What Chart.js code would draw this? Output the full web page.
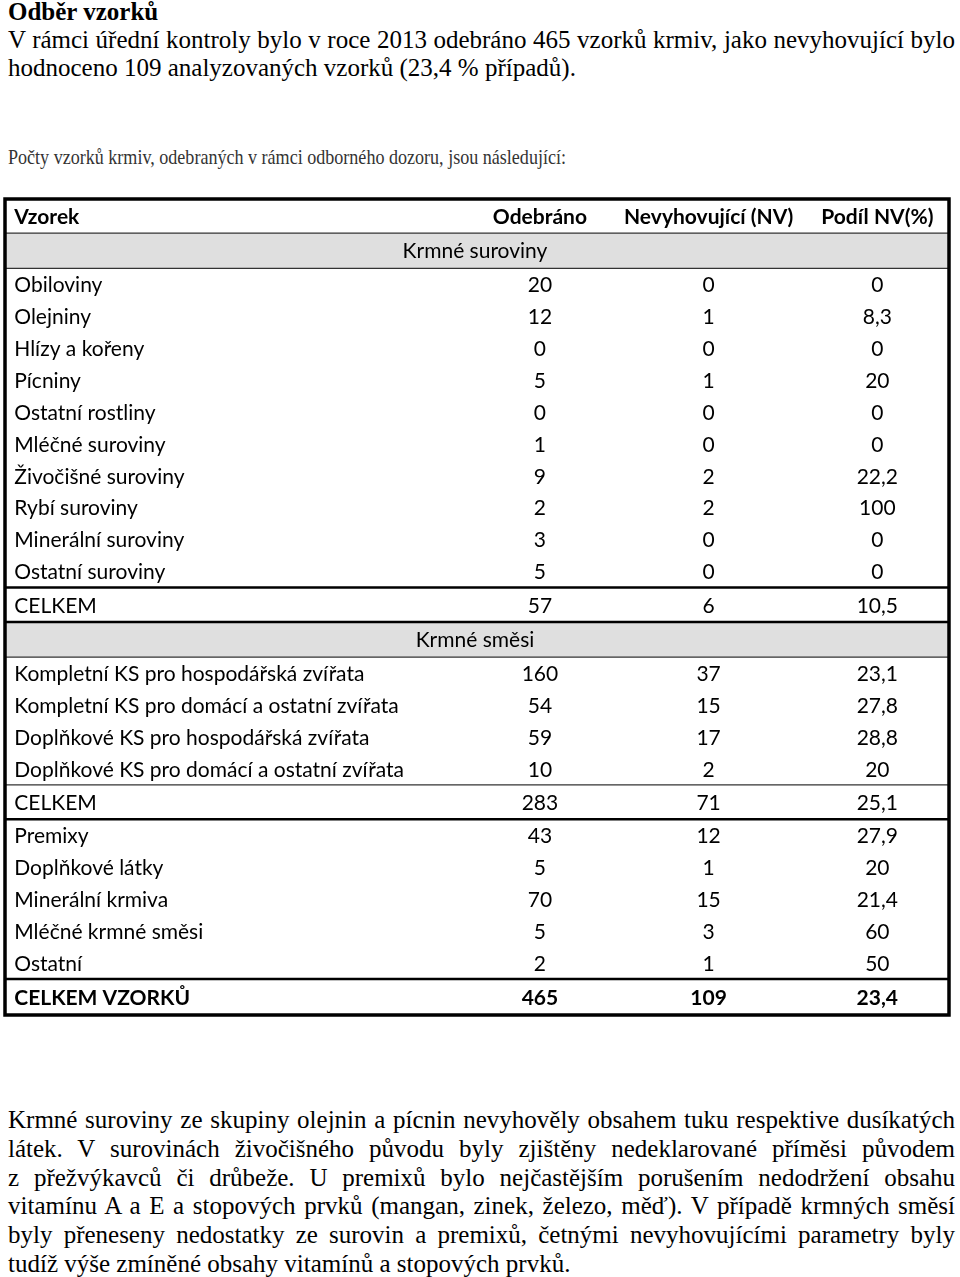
<!DOCTYPE html>
<html lang="cs">
<head>
<meta charset="utf-8">
<title>Odběr vzorků</title>
<script src="https://cdn.jsdelivr.net/npm/chart.js@4.4.0/dist/chart.umd.min.js"></script>
<style>
	html, body { margin: 0; padding: 0; background: #fff; }
	body { width: 960px; height: 1277px; position: relative; overflow: hidden; }
	.txt { position: absolute; left: 8px; font-family: "Liberation Serif", "Times New Roman", serif; font-size: 25px; line-height: 28px; color: #000; white-space: nowrap; }
	.j { display: inline-block; white-space: nowrap; }
	.fit { display: inline-block; white-space: nowrap; transform-origin: 0 50%; }
	#tableBox { position: absolute; left: 0; top: 190px; width: 960px; height: 835px; }
</style>
</head>
<body>

<div class="txt" style="top:-2px;font-weight:bold;">Odběr vzorků</div>
<div class="txt" style="top:26px;"><span class="j">V rámci úřední kontroly bylo v roce 2013 odebráno 465 vzorků krmiv, jako nevyhovující bylo</span></div>
<div class="txt" style="top:54px;">hodnoceno 109 analyzovaných vzorků (23,4 % případů).</div>
<div class="txt" style="top:143px;color:#333;font-size:22px;"><span class="fit" data-w="558">Počty vzorků krmiv, odebraných v rámci odborného dozoru, jsou následující:</span></div>

<div id="tableBox"><canvas id="c" width="960" height="835"></canvas></div>

<div class="txt" style="top:1106px;line-height:28.8px;">
<span class="j">Krmné suroviny ze skupiny olejnin a pícnin nevyhověly obsahem tuku respektive dusíkatých</span><br>
<span class="j">látek. V surovinách živočišného původu byly zjištěny nedeklarované příměsi původem</span><br>
<span class="j">z přežvýkavců či drůbeže. U premixů bylo nejčastějším porušením nedodržení obsahu</span><br>
<span class="j">vitamínu A a E a stopových prvků (mangan, zinek, železo, měď). V případě krmných směsí</span><br>
<span class="j">byly přeneseny nedostatky ze surovin a premixů, četnými nevyhovujícími parametry byly</span><br>
<span>tudíž výše zmíněné obsahy vitamínů a stopových prvků.</span>
</div>

<script>
// --- data ---
var columnLabels = ["Vzorek", "Odebráno", "Nevyhovující (NV)", "Podíl NV(%)"];
var bandLabels = ["Krmné suroviny", "Krmné směsi"];

var surovinyNames = ["Obiloviny", "Olejniny", "Hlízy a kořeny", "Pícniny", "Ostatní rostliny", "Mléčné suroviny", "Živočišné suroviny", "Rybí suroviny", "Minerální suroviny", "Ostatní suroviny"];
var surovinyOdebrano = [20, 12, 0, 5, 0, 1, 9, 2, 3, 5];
var surovinyNV = [0, 1, 0, 1, 0, 0, 2, 2, 0, 0];
var surovinyPodil = [0, 8.3, 0, 20, 0, 0, 22.2, 100, 0, 0];
var surovinyCelkem = [57, 6, 10.5];

var smesiNames = ["Kompletní KS pro hospodářská zvířata", "Kompletní KS pro domácí a ostatní zvířata", "Doplňkové KS pro hospodářská zvířata", "Doplňkové KS pro domácí a ostatní zvířata"];
var smesiOdebrano = [160, 54, 59, 10];
var smesiNV = [37, 15, 17, 2];
var smesiPodil = [23.1, 27.8, 28.8, 20];
var smesiCelkem = [283, 71, 25.1];

var ostatniNames = ["Premixy", "Doplňkové látky", "Minerální krmiva", "Mléčné krmné směsi", "Ostatní"];
var ostatniOdebrano = [43, 5, 70, 5, 2];
var ostatniNV = [12, 1, 15, 3, 1];
var ostatniPodil = [27.9, 20, 21.4, 60, 50];

var celkemLabel = "CELKEM";
var celkemVzorkuLabel = "CELKEM VZORKŮ";
var celkemVzorku = [465, 109, 23.4];

// --- layout (row heights in row units, column positions in column units) ---
var ROW_H = { header: 1.07, band: 1.1, data: 1.0, total: 1.08, grand: 1.13 };
var COL_X = [0.055, 3.171, 4.171, 5.171];
var COL_MAX = 5.596;
var BAND_X = 2.786;
var FONT = "Lato, 'Open Sans', sans-serif";
var FONT_SIZE = 21;

function fmt(v) {
	if(typeof v === "number") return String(v).replace(".", ",");
	return v;
}

function buildRows() {
	var rows = [];
	rows.push({ kind: "header", cells: columnLabels, line: "thin" });

	var addGroup = function(names, a, b, c, lastLine) {
		for(var i = 0; i < names.length; i++) {
			rows.push({ kind: "data", cells: [names[i], a[i], b[i], c[i]], line: i === names.length - 1 ? lastLine : null });
		}
	};

	rows.push({ kind: "band", label: bandLabels[0], line: "thin" });
	addGroup(surovinyNames, surovinyOdebrano, surovinyNV, surovinyPodil, "thick");
	rows.push({ kind: "total", cells: [celkemLabel].concat(surovinyCelkem), line: "thick" });

	rows.push({ kind: "band", label: bandLabels[1], line: "thin" });
	addGroup(smesiNames, smesiOdebrano, smesiNV, smesiPodil, "thin");
	rows.push({ kind: "total", cells: [celkemLabel].concat(smesiCelkem), line: "thick" });

	addGroup(ostatniNames, ostatniOdebrano, ostatniNV, ostatniPodil, "thick");
	rows.push({ kind: "grand", cells: [celkemVzorkuLabel].concat(celkemVzorku), line: null });

	var y = 0;
	rows.forEach(function(r) {
		var h = ROW_H[r.kind];
		r.top = y;
		r.mid = y + h / 2;
		r.bottom = y + h;
		y += h;
	});
	rows.totalUnits = y;
	return rows;
}

var rows = buildRows();

var datasets = [];
for(var c = 0; c < columnLabels.length; c++) {
	datasets.push({
		label: columnLabels[c],
		align: c === 0 ? "left" : "center",
		data: rows.filter(function(r) { return r.cells; }).map(function(r) {
			return { x: COL_X[c], y: r.mid, t: fmt(r.cells[c]), bold: r.kind === "header" || r.kind === "grand" };
		}),
		pointRadius: 0,
		pointHoverRadius: 0
	});
}
datasets.push({
	label: "bands",
	align: "center",
	data: rows.filter(function(r) { return r.kind === "band"; }).map(function(r) {
		return { x: BAND_X, y: r.mid, t: r.label, bold: false };
	}),
	pointRadius: 0,
	pointHoverRadius: 0
});

var tablePlugin = {
	id: "tableCells",
	beforeDatasetsDraw: function(chart) {
		var ctx = chart.ctx, a = chart.chartArea, ys = chart.scales.y;
		ctx.save();
		rows.forEach(function(r) {
			var t = ys.getPixelForValue(r.top), b = ys.getPixelForValue(r.bottom);
			if(r.kind === "band") {
				ctx.fillStyle = "#dfdfdf";
				ctx.fillRect(a.left, t, a.right - a.left, b - t);
			}
		});
		rows.forEach(function(r) {
			if(!r.line) return;
			var b = ys.getPixelForValue(r.bottom);
			ctx.beginPath();
			ctx.strokeStyle = r.line === "thick" ? "#000" : "#333";
			ctx.lineWidth = r.line === "thick" ? 2.5 : 1.2;
			ctx.moveTo(a.left, b);
			ctx.lineTo(a.right, b);
			ctx.stroke();
		});
		ctx.restore();
	},
	afterDatasetsDraw: function(chart) {
		var ctx = chart.ctx, a = chart.chartArea;
		ctx.save();
		ctx.fillStyle = "#000";
		ctx.textBaseline = "middle";
		chart.data.datasets.forEach(function(ds, i) {
			var meta = chart.getDatasetMeta(i);
			ctx.textAlign = ds.align;
			meta.data.forEach(function(pt, j) {
				var d = ds.data[j];
				ctx.font = (d.bold ? "bold " : "") + FONT_SIZE + "px " + FONT;
				ctx.fillText(d.t, pt.x, pt.y + 1);
			});
		});
		ctx.lineWidth = 3.5;
		ctx.strokeStyle = "#000";
		ctx.strokeRect(a.left, a.top, a.right - a.left, a.bottom - a.top);
		ctx.restore();
	}
};

new Chart(document.getElementById("c").getContext("2d"), {
	type: "scatter",
	data: { datasets: datasets },
	options: {
		responsive: false,
		animation: false,
		devicePixelRatio: 1,
		events: [],
		layout: { padding: { left: 5, right: 11, top: 9, bottom: 10 } },
		plugins: { legend: { display: false }, tooltip: { enabled: false } },
		scales: {
			x: { type: "linear", display: false, min: 0, max: COL_MAX },
			y: { type: "linear", display: false, reverse: true, min: 0, max: rows.totalUnits }
		}
	},
	plugins: [tablePlugin]
});

// justify the paragraph lines to the text width
document.querySelectorAll(".j").forEach(function(el) {
	el.style.wordSpacing = "0px";
	var w = el.getBoundingClientRect().width;
	var spaces = (el.textContent.match(/ /g) || []).length;
	if(spaces) el.style.wordSpacing = ((947 - w) / spaces) + "px";
});
// squeeze the line that is set condensed in the original
document.querySelectorAll(".fit").forEach(function(el) {
	var w = el.getBoundingClientRect().width;
	el.style.transform = "scaleX(" + (Number(el.dataset.w) / w) + ")";
});
</script>
</body>
</html>
